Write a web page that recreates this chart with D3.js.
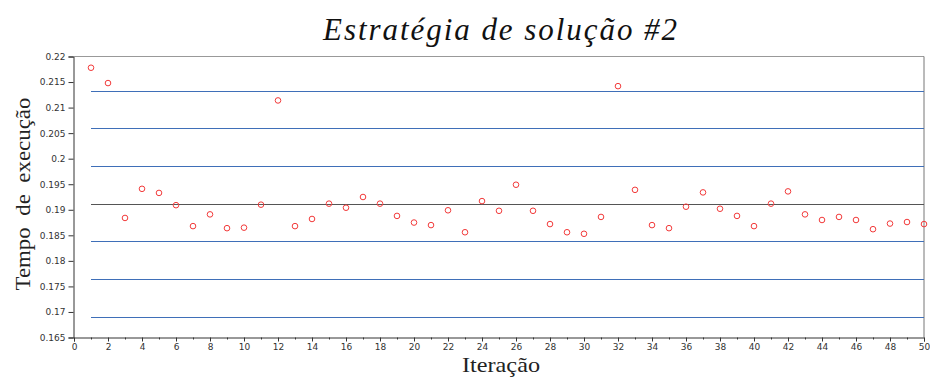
<!DOCTYPE html>
<html><head><meta charset="utf-8">
<script src="https://cdn.jsdelivr.net/npm/d3@7"></script>
<style>body{margin:0;background:#fff}svg{display:block}</style>
</head><body>
<svg id="c" width="930" height="378"></svg>
<script>
const iterations = d3.range(1, 51);
const times = [0.2178,0.2148,0.1884,0.1941,0.1933,0.1909,0.1868,0.1891,0.1864,0.1865,
  0.1910,0.2114,0.1868,0.1882,0.1912,0.1904,0.1925,0.1912,0.1888,0.1875,
  0.1870,0.1899,0.1856,0.1917,0.1898,0.1949,0.1898,0.1872,0.1856,0.1853,
  0.1886,0.2142,0.1939,0.1870,0.1864,0.1906,0.1934,0.1902,0.1888,0.1868,
  0.1912,0.1936,0.1891,0.1880,0.1886,0.1880,0.1862,0.1873,0.1876,0.1872];
const refLevels = [0.2133,0.2060,0.1986,0.19115,0.1838,0.1764,0.1690];
const refKinds  = ["s","s","s","m","s","s","s"];
const yTicks = d3.range(0.165, 0.2201, 0.005);
const xMajor = d3.range(0, 51, 2);
const xMinor = d3.range(1, 50, 2);

const svg = d3.select("#c");
const x = d3.scaleLinear().domain([0,50]).range([74,924]);
const y = d3.scaleLinear().domain([0.165,0.22]).range([337.5,56.5]);

// frame top/right
svg.append("line").attr("x1",74).attr("x2",924).attr("y1",y(0.22)).attr("y2",y(0.22)).attr("stroke","#999").attr("stroke-width",1);
svg.append("line").attr("x1",924).attr("x2",924).attr("y1",y(0.22)).attr("y2",y(0.165)).attr("stroke","#777").attr("stroke-width",1);

// reference lines
svg.selectAll("line.ref").data(refLevels).join("line").attr("class","ref")
  .attr("x1",x(1)).attr("x2",x(50))
  .attr("y1",d=>Math.round(y(d))+0.5).attr("y2",d=>Math.round(y(d))+0.5)
  .attr("stroke",(d,i)=>refKinds[i]==="m"?"#555":"#3f6fb8").attr("stroke-width",1);

// y axis
const yAxis = d3.axisLeft(y).tickValues(yTicks).tickSize(5).tickPadding(3)
  .tickFormat(d=>String(+d.toFixed(3)));
const gy = svg.append("g").attr("transform","translate(73.5,0)").call(yAxis);
gy.select(".domain").attr("stroke","#333");
gy.selectAll(".tick line").attr("stroke","#333");
gy.selectAll("text").attr("font-family","DejaVu Sans").attr("font-size",9).attr("fill","#333");

// x axis
const xAxis = d3.axisBottom(x).tickValues(xMajor).tickSize(4).tickPadding(2).tickFormat(d3.format("d"));
const gx = svg.append("g").attr("transform","translate(0,337.5)").call(xAxis);
gx.select(".domain").attr("stroke","#333");
gx.selectAll(".tick line").attr("stroke","#333");
gx.selectAll("text").attr("font-family","DejaVu Sans").attr("font-size",9).attr("fill","#333");
gx.selectAll("line.minor").data(xMinor).join("line").attr("class","minor")
  .attr("x1",d=>x(d)+0.5).attr("x2",d=>x(d)+0.5).attr("y1",0).attr("y2",2).attr("stroke","#333");

// points
svg.selectAll("circle.pt").data(times).join("circle").attr("class","pt")
  .attr("cx",(d,i)=>x(iterations[i])).attr("cy",d=>y(d)).attr("r",2.8)
  .attr("fill","none").attr("stroke","#f23a3a").attr("stroke-width",1);

// title & labels
svg.append("text").attr("x",500).attr("y",40).attr("text-anchor","middle")
  .attr("font-family","Liberation Serif").attr("font-style","italic").attr("font-size",31).attr("fill","#111")
  .attr("textLength",354).attr("lengthAdjust","spacing")
  .text("Estratégia de solução #2");
svg.append("text").attr("x",501).attr("y",372).attr("text-anchor","middle")
  .attr("font-family","Liberation Serif").attr("font-size",22).attr("fill","#222")
  .attr("textLength",78).attr("lengthAdjust","spacingAndGlyphs").text("Iteração");
svg.append("text").attr("transform","translate(30,194) rotate(-90)").attr("text-anchor","middle")
  .attr("font-family","Liberation Serif").attr("font-size",22).attr("fill","#222")
  .attr("textLength",193).attr("lengthAdjust","spacingAndGlyphs")
  .style("white-space","pre").text("Tempo  de  execução");
</script>
</body></html>
